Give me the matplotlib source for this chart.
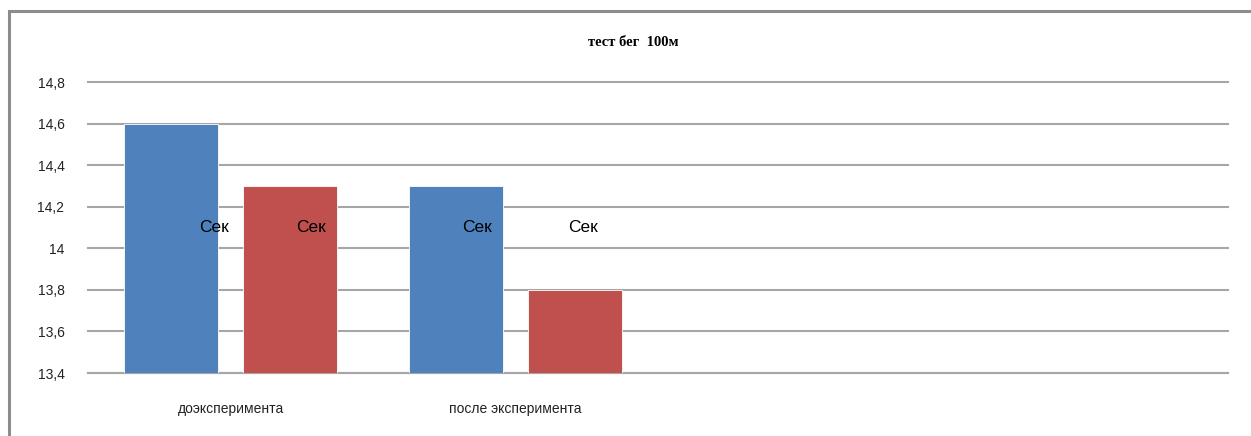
import matplotlib
matplotlib.use("Agg")
import matplotlib.pyplot as plt
import matplotlib.ticker as mticker
from matplotlib.patches import Rectangle

# данные
categories = ["доэксперимента", "после эксперимента", "", ""]
series_blue = [14.6, 14.3]
series_red = [14.3, 13.8]
label_text = "Сек"
label_level = 14.1
# сдвиг подписей (в пикселях) — в оригинале подписи стоят вручную
blue_label_dx = [43, 21]
red_label_dx = [21, 8]

BLUE = "#4F81BD"
RED = "#C0504D"
GRID = "#A6A6A6"

W, H = 1251, 436
fig = plt.figure(figsize=(W / 100, H / 100), dpi=100, facecolor="white")

# рамка области диаграммы (обрезана справа и снизу)
fig.patches.append(Rectangle((9 / W, -0.1), 1.2, (H - 11) / H + 0.1,
                             transform=fig.transFigure, fill=False,
                             edgecolor="#8C8C8C", linewidth=2.2))

ax = fig.add_axes([88 / W, (H - 373) / H, (1228 - 88) / W, (373 - 82) / H])

x = list(range(len(categories)))
width = 0.33
off = 0.208

xb = [i - off for i in range(len(series_blue))]
xr = [i + off for i in range(len(series_red))]
ax.bar(xb, [v - 13.4 for v in series_blue], bottom=13.4, width=width,
       color=BLUE, edgecolor="white", linewidth=0.6, zorder=3)
ax.bar(xr, [v - 13.4 for v in series_red], bottom=13.4, width=width,
       color=RED, edgecolor="white", linewidth=0.6, zorder=3)

for xi, dx in zip(xb, blue_label_dx):
    ax.annotate(label_text, xy=(xi, label_level), xytext=(dx * 0.72, 0),
                textcoords="offset points", ha="center", va="center",
                fontsize=12.5, color="black", zorder=5, family="Liberation Sans")
for xi, dx in zip(xr, red_label_dx):
    ax.annotate(label_text, xy=(xi, label_level), xytext=(dx * 0.72, 0),
                textcoords="offset points", ha="center", va="center",
                fontsize=12.5, color="black", zorder=5, family="Liberation Sans")

ax.set_xlim(-0.5, len(categories) - 0.5)
ax.set_ylim(13.4, 14.8)
ax.yaxis.set_major_locator(mticker.MultipleLocator(0.2))
ax.yaxis.set_major_formatter(
    mticker.FuncFormatter(lambda v, _: f"{round(v, 1):g}".replace(".", ",")))
ax.yaxis.grid(True, color=GRID, linewidth=1.5, zorder=0)
ax.set_axisbelow(True)
for gl in ax.yaxis.get_gridlines():
    gl.set_clip_on(False)

ax.set_xticks(x)
ax.set_xticklabels(categories, fontsize=10, color="#222222", family="Liberation Sans")
ax.tick_params(axis="x", length=0, pad=21)
ax.tick_params(axis="y", length=0, pad=17, labelsize=10, labelcolor="#222222")
for lab in ax.get_yticklabels():
    lab.set_family("Liberation Sans")

for s in ["left", "right", "top"]:
    ax.spines[s].set_visible(False)
ax.spines["bottom"].set_color(GRID)
ax.spines["bottom"].set_linewidth(1.5)

fig.text(633 / W, 1 - 43 / H, "тест бег  100м", ha="center", va="center",
         fontsize=10.5, fontweight="bold", family="Liberation Serif")

fig.savefig("out.png", dpi=100, facecolor="white")
